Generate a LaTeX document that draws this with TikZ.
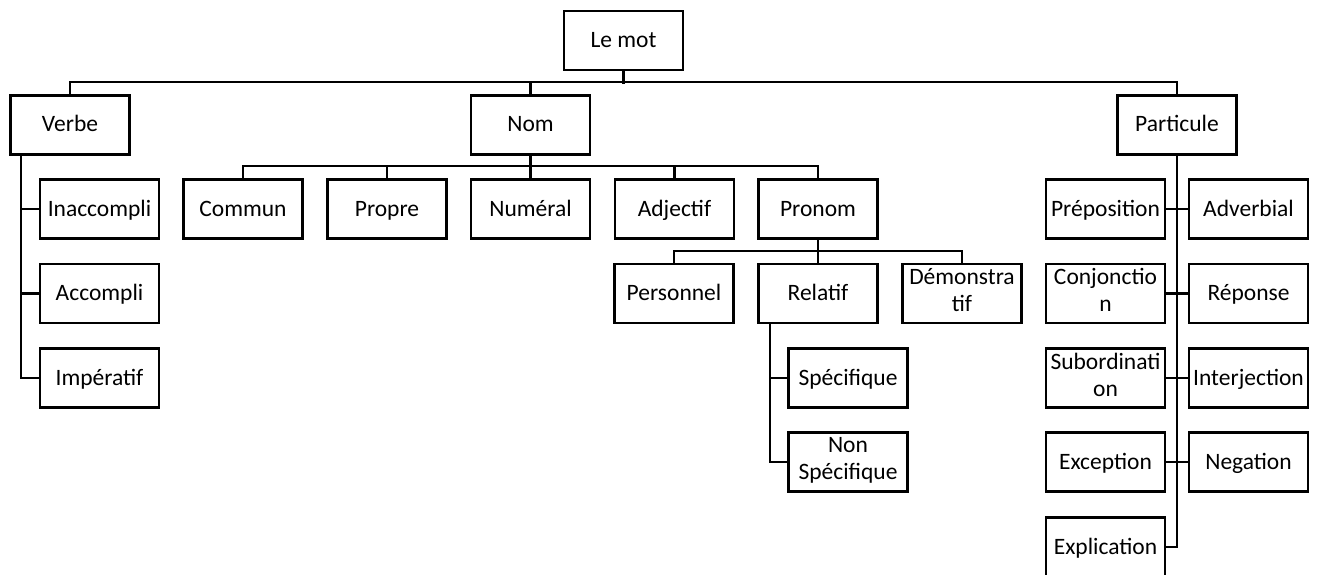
\documentclass[tikz,border=0pt]{standalone}
\usepackage{fontspec}
\setmainfont{Carlito}
% fixed strut so every line sits on the same baseline
\newcommand\zz{\rule[-7pt]{0pt}{28pt}}
\begin{document}
\begin{tikzpicture}[x=1pt,y=-1pt,
  box/.style={draw,line width=2.5pt,rectangle,minimum width=119pt,minimum height=59pt,
    inner sep=0pt,align=center,font=\fontsize{23.5}{27}\selectfont,
    execute at begin node=\zz},
  link/.style={line width=2.2pt}]
\useasboundingbox (0,0) rectangle (1320,575);
% root and first level
\node[box] (lemot) at (623.5,40.5) {Le mot};
\node[box] (verbe) at (70,125) {Verbe};
\node[box] (nom) at (530.5,125) {Nom};
\node[box] (particule) at (1177,125) {Particule};
% verb forms
\node[box] (inaccompli) at (99.5,209) {Inaccompli};
\node[box] (accompli) at (99.5,293.5) {Accompli};
\node[box] (imperatif) at (99.5,378) {Impératif};
% noun kinds
\node[box] (commun) at (243,209) {Commun};
\node[box] (propre) at (387,209) {Propre};
\node[box] (numeral) at (530.5,209) {Numéral};
\node[box] (adjectif) at (674.5,209) {Adjectif};
\node[box] (pronom) at (818,209) {Pronom};
% pronouns
\node[box] (personnel) at (674,293.5) {Personnel};
\node[box] (relatif) at (818,293.5) {Relatif};
\node[box] (demonstratif) at (962,293.5) {Démonstra\\\zz tif};
\node[box] (specifique) at (848,378) {Spécifique};
\node[box] (nonspecifique) at (848,462) {Non\\\zz Spécifique};
% particles
\node[box] (preposition) at (1105.5,209) {Préposition};
\node[box] (adverbial) at (1248.5,209) {Adverbial};
\node[box] (conjonction) at (1105.5,293.5) {Conjonctio\\\zz n};
\node[box] (reponse) at (1248.5,293.5) {Réponse};
\node[box] (subordination) at (1105.5,378) {Subordinati\\\zz on};
\node[box] (interjection) at (1248.5,378) {Interjection};
\node[box] (exception) at (1105.5,462) {Exception};
\node[box] (negation) at (1248.5,462) {Negation};
\node[box] (explication) at (1105.5,547) {Explication};

% first level connectors
\draw[link] (verbe.north) -- ++(0,-12) -| (particule.north);
\draw[link] (lemot.south) -- ++(0,13);
\draw[link] (nom.north) -- ++(0,-12);

% verb branch
\coordinate (vx) at ([xshift=12pt]verbe.south west);
\draw[link] (vx) |- (imperatif.west);
\draw[link] (inaccompli.west) -- (inaccompli.west -| vx);
\draw[link] (accompli.west) -- (accompli.west -| vx);

% noun branch
\draw[link] (commun.north) -- ++(0,-12) -| (pronom.north);
\draw[link] (nom.south) -- (numeral.north);
\draw[link] (propre.north) -- ++(0,-12);
\draw[link] (adjectif.north) -- ++(0,-12);

% pronoun branch
\draw[link] (personnel.north) -- ++(0,-12) -| (demonstratif.north);
\draw[link] (pronom.south) -- (relatif.north);
\coordinate (rx) at ([xshift=13pt]relatif.south west);
\draw[link] (rx) |- (nonspecifique.west);
\draw[link] (specifique.west) -- (specifique.west -| rx);

% particle branch
\draw[link] (particule.south) |- (explication.east);
\draw[link] (preposition.east) -- (adverbial.west);
\draw[link] (conjonction.east) -- (reponse.west);
\draw[link] (subordination.east) -- (interjection.west);
\draw[link] (exception.east) -- (negation.west);
\end{tikzpicture}
\end{document}
